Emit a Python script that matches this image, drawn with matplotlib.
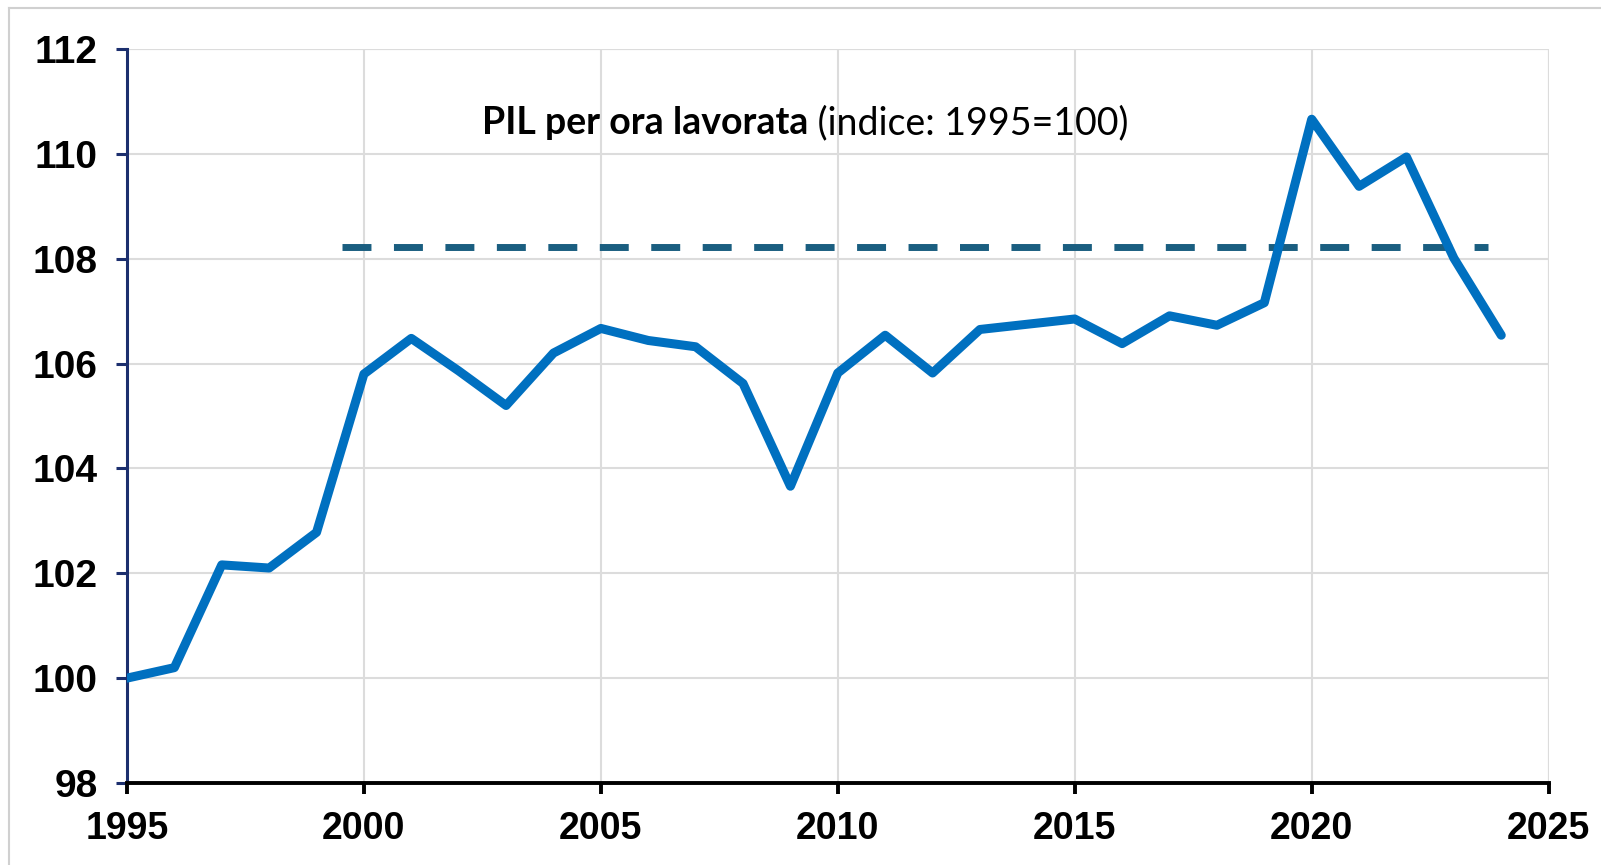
import matplotlib
matplotlib.use('agg')
import matplotlib.pyplot as plt
from matplotlib.lines import Line2D

years = list(range(1995, 2025))
pil_per_ora = [100.0, 100.2, 102.16, 102.1, 102.78, 105.8, 106.48, 105.86, 105.2, 106.2,
               106.67, 106.44, 106.32, 105.62, 103.66, 105.82, 106.54, 105.82, 106.65, 106.75,
               106.85, 106.38, 106.91, 106.73, 107.16, 110.66, 109.38, 109.94, 108.01, 106.54]
ref_level = 108.23
ref_span = [1999.54, 2023.71]

x_ticks = [1995, 2000, 2005, 2010, 2015, 2020, 2025]
y_ticks = [98, 100, 102, 104, 106, 108, 110, 112]

fig = plt.figure(figsize=(16.01, 8.65), dpi=100)
ax = fig.add_axes([0.0793, 0.0948, 0.888, 0.8486])

ax.plot(years, pil_per_ora, color='#0070c0', lw=6.5, solid_joinstyle='round',
        solid_capstyle='round', zorder=3)
ax.plot(ref_span, [ref_level, ref_level], color='#1a5e80', lw=5,
        dashes=(4.17, 3.24), zorder=2)

ax.set_xlim(1995, 2025)
ax.set_ylim(98, 112)
ax.set_xticks(x_ticks)
ax.set_yticks(y_ticks)
ax.grid(True, color='#dcdcdc', lw=1.5, zorder=0)
ax.set_axisbelow(True)

for s in ['top', 'right']:
    ax.spines[s].set_visible(False)
ax.spines['left'].set_color('#1c2f6e')
ax.spines['left'].set_linewidth(2.2)
ax.spines['bottom'].set_color('black')
ax.spines['bottom'].set_linewidth(2.8)
ax.tick_params(axis='y', direction='out', length=8, width=2.2, color='#1c2f6e', pad=13)
ax.tick_params(axis='x', direction='out', length=8, width=2.8, color='black', pad=12)
for lab in ax.get_xticklabels() + ax.get_yticklabels():
    lab.set_fontfamily('Liberation Sans')
    lab.set_fontweight('bold')
    lab.set_fontsize(27)
for lab in ax.get_yticklabels():
    lab.set_fontsize(28)

# grid lines at the far edges (2025 and 112)
ax.axvline(2025, color='#dcdcdc', lw=1.5, zorder=0)
ax.axhline(112, color='#dcdcdc', lw=1.5, zorder=0)

title_y = 0.858
bold_txt = fig.text(0.301, title_y, 'PIL per ora lavorata', fontfamily='Lato',
                    fontweight='bold', fontsize=27, va='center', ha='left')
fig.canvas.draw()
bb = bold_txt.get_window_extent().transformed(fig.transFigure.inverted())
fig.text(bb.x1, title_y, ' (indice: 1995=100)', fontfamily='Lato', fontsize=27,
         va='center', ha='left')

# outer light border
fig.add_artist(Line2D([9 / 1601, 1], [1 - 8 / 865, 1 - 8 / 865], color='#d0d0d0', lw=1.5,
                      transform=fig.transFigure))
fig.add_artist(Line2D([9 / 1601, 9 / 1601], [0, 1 - 8 / 865], color='#d0d0d0', lw=1.5,
                      transform=fig.transFigure))

fig.savefig('out.png', dpi=100)
